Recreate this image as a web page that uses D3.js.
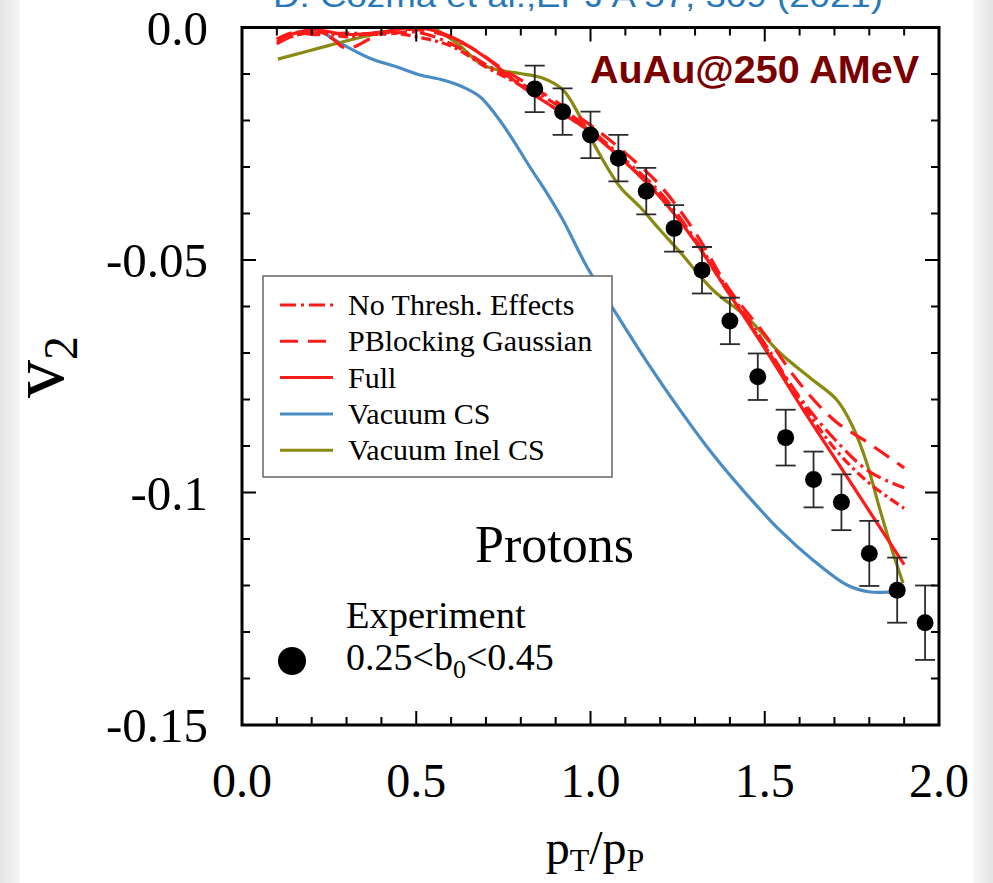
<!DOCTYPE html>
<html><head><meta charset="utf-8">
<script src="https://cdn.jsdelivr.net/npm/d3@7"></script>
<style>html,body{margin:0;padding:0;background:#fff;} svg{display:block}</style>
</head><body><svg id="c" width="993" height="883"></svg>
<script>
// ---------- data ----------
const xTicks = [0, 0.5, 1.0, 1.5, 2.0];
const xTickLabels = ["0.0", "0.5", "1.0", "1.5", "2.0"];
const yTicks = [0, -0.05, -0.1, -0.15];
const yTickLabels = ["0.0", "-0.05", "-0.1", "-0.15"];

const expX   = [0.84, 0.92, 1.00, 1.08, 1.16, 1.24, 1.32, 1.40, 1.48, 1.56, 1.64, 1.72, 1.80, 1.88, 1.96];
const expY   = [-0.0132, -0.0181, -0.0231, -0.0281, -0.0352, -0.0432, -0.0522, -0.0631, -0.0751, -0.0882, -0.0972, -0.1021, -0.1131, -0.1210, -0.1280];
const expErr = [0.005, 0.005, 0.005, 0.005, 0.005, 0.005, 0.005, 0.005, 0.005, 0.006, 0.006, 0.006, 0.007, 0.007, 0.008];

const vacuumCS = [[0.204,0.0003],[0.281,-0.0033],[0.367,-0.0066],[0.445,-0.0085],[0.511,-0.0102],[0.577,-0.0113],[0.634,-0.0128],[0.683,-0.0149],[0.732,-0.0192],[0.778,-0.0242],[0.826,-0.0300],[0.875,-0.0356],[0.921,-0.0414],[0.990,-0.0515],[1.076,-0.0618],[1.162,-0.0719],[1.257,-0.0823],[1.352,-0.0919],[1.449,-0.1005],[1.543,-0.1081],[1.638,-0.1145],[1.736,-0.1199],[1.802,-0.1214],[1.888,-0.1212]];
const vacuumInelCS = [[0.103,-0.0068],[0.253,-0.0038],[0.347,-0.0020],[0.462,0.0000],[0.505,0.0015],[0.548,0.0000],[0.617,-0.0034],[0.683,-0.0077],[0.732,-0.0091],[0.798,-0.0099],[0.864,-0.0109],[0.921,-0.0134],[0.970,-0.0192],[1.019,-0.0263],[1.085,-0.0343],[1.142,-0.0386],[1.199,-0.0435],[1.257,-0.0483],[1.352,-0.0565],[1.449,-0.0623],[1.544,-0.0700],[1.638,-0.0758],[1.707,-0.0801],[1.753,-0.0859],[1.793,-0.0937],[1.831,-0.1038],[1.868,-0.1130],[1.897,-0.1195]];
const fullRed = [[0.10,-0.0025],[0.2,-0.0005],[0.3,-0.0015],[0.4,-0.001],[0.5,0.0],[0.6,-0.002],[0.7,-0.0065],[0.8,-0.0125],[0.9,-0.0175],[1.0,-0.0225],[1.1,-0.029],[1.2,-0.0365],[1.3,-0.046],[1.4,-0.0575],[1.5,-0.069],[1.6,-0.081],[1.7,-0.0925],[1.8,-0.104],[1.9,-0.1155]];
const pblockGauss = [[0.1,-0.0035],[0.18,-0.001],[0.25,-0.002],[0.3,-0.0045],[0.38,-0.002],[0.45,-0.0005],[0.55,-0.001],[0.65,-0.004],[0.75,-0.009],[0.85,-0.0135],[1.0,-0.021],[1.1,-0.027],[1.2,-0.034],[1.3,-0.044],[1.4,-0.0565],[1.5,-0.066],[1.6,-0.0765],[1.7,-0.0845],[1.8,-0.0895],[1.9,-0.0947]];
const noThresh = [[0.1,-0.0025],[0.15,-0.001],[0.2,-0.0015],[0.3,-0.0012],[0.4,-0.0015],[0.5,-0.001],[0.6,-0.0035],[0.7,-0.008],[0.8,-0.012],[0.9,-0.0165],[1.0,-0.022],[1.1,-0.0285],[1.2,-0.0355],[1.3,-0.0455],[1.4,-0.057],[1.5,-0.068],[1.6,-0.0795],[1.7,-0.0885],[1.8,-0.0955],[1.9,-0.099]];
const extraRed = [[0.1,-0.003],[0.2,-0.001],[0.3,-0.002],[0.4,-0.001],[0.5,-0.002],[0.6,-0.004],[0.7,-0.0085],[0.8,-0.0125],[0.9,-0.0175],[1.0,-0.0225],[1.1,-0.029],[1.2,-0.036],[1.3,-0.046],[1.4,-0.0575],[1.5,-0.0685],[1.6,-0.080],[1.7,-0.0905],[1.8,-0.098],[1.9,-0.1034]];

const legendLabels = ["No Thresh. Effects", "PBlocking Gaussian", "Full", "Vacuum CS", "Vacuum Inel CS"];
const legendColors = ["#ff1a1a", "#ff1a1a", "#ff1a1a", "#4a8cc4", "#8a8a12"];
const legendDashes = ["16,5,3,5", "18,10", null, null, null];

// ---------- drawing ----------
const svg = d3.select("#c");
const x = d3.scaleLinear().domain([0, 2]).range([242, 939]);
const y = d3.scaleLinear().domain([-0.15, 0]).range([725, 27.5]);
const serif = "'Liberation Serif','Times New Roman',serif";
const sans = "'Liberation Sans',Arial,sans-serif";

svg.append("rect").attr("width", 993).attr("height", 883).attr("fill", "#fff");
const defs = svg.append("defs");
const gl = defs.append("linearGradient").attr("id","gl");
gl.append("stop").attr("offset","0").attr("stop-color","#e4e4e4");
gl.append("stop").attr("offset","1").attr("stop-color","#f6f6f6");
svg.append("rect").attr("x",0).attr("y",0).attr("width",20).attr("height",883).attr("fill","url(#gl)");
const gr = defs.append("linearGradient").attr("id","gr");
gr.append("stop").attr("offset","0").attr("stop-color","#f6f6f6");
gr.append("stop").attr("offset","1").attr("stop-color","#e4e4e4");
svg.append("rect").attr("x",973).attr("y",0).attr("width",20).attr("height",883).attr("fill","url(#gr)");

// citation (partly above the page, as in the reference)
svg.append("text").attr("x", 273).attr("y", 7).attr("textLength", 610).attr("lengthAdjust","spacingAndGlyphs")
  .attr("font-family", sans).attr("font-size", 32).attr("fill", "#2878b8")
  .text("D. Cozma et al.,EPJ A 57, 309 (2021)");

defs.append("clipPath").attr("id", "clip").append("rect")
  .attr("x", x(0)).attr("y", y(0)).attr("width", x(2) - x(0)).attr("height", y(-0.15) - y(0));

const plot = svg.append("g").attr("clip-path", "url(#clip)");
const line = d3.line().x(d => x(d[0])).y(d => y(d[1])).curve(d3.curveCatmullRom.alpha(0.5));

const series = [
  {d: vacuumCS, c: "#4a8cc4", dash: null},
  {d: vacuumInelCS, c: "#8a8a12", dash: null},
  {d: extraRed, c: "#ff1a1a", dash: "10,4,3,4"},
  {d: noThresh, c: "#ff1a1a", dash: "16,5,3,5"},
  {d: pblockGauss, c: "#ff1a1a", dash: "18,10"},
  {d: fullRed, c: "#ff1a1a", dash: null}
];
series.forEach(s => {
  plot.append("path").attr("d", line(s.d)).attr("fill", "none").attr("stroke", s.c)
    .attr("stroke-width", 3.2).attr("stroke-dasharray", s.dash);
});

// experimental points
const eg = plot.append("g");
expX.forEach((xv, i) => {
  const cx = x(xv), yt = y(expY[i] + expErr[i]), yb = y(expY[i] - expErr[i]);
  eg.append("line").attr("x1", cx).attr("x2", cx).attr("y1", yt).attr("y2", yb).attr("stroke", "#2a2a2a").attr("stroke-width", 1.8);
  eg.append("line").attr("x1", cx - 10).attr("x2", cx + 10).attr("y1", yt).attr("y2", yt).attr("stroke", "#2a2a2a").attr("stroke-width", 1.8);
  eg.append("line").attr("x1", cx - 10).attr("x2", cx + 10).attr("y1", yb).attr("y2", yb).attr("stroke", "#2a2a2a").attr("stroke-width", 1.8);
  eg.append("circle").attr("cx", cx).attr("cy", y(expY[i])).attr("r", 8.5).attr("fill", "#000");
});

// axes frame & ticks
const axG = svg.append("g").attr("stroke", "#000");
const minorX = d3.range(0, 21).map(i => i / 10);
minorX.forEach(v => {
  const major = Math.abs(v * 2 - Math.round(v * 2)) < 1e-6;
  const L = major ? 14 : 8;
  axG.append("line").attr("x1", x(v)).attr("x2", x(v)).attr("y1", y(-0.15)).attr("y2", y(-0.15) - L).attr("stroke-width", 2);
  axG.append("line").attr("x1", x(v)).attr("x2", x(v)).attr("y1", y(0)).attr("y2", y(0) + L).attr("stroke-width", 2);
});
const minorY = d3.range(0, 16).map(i => -i / 100);
minorY.forEach(v => {
  const major = Math.abs(v * 20 - Math.round(v * 20)) < 1e-6;
  const L = major ? 14 : 8;
  axG.append("line").attr("x1", x(0)).attr("x2", x(0) + L).attr("y1", y(v)).attr("y2", y(v)).attr("stroke-width", 2);
  axG.append("line").attr("x1", x(2)).attr("x2", x(2) - L).attr("y1", y(v)).attr("y2", y(v)).attr("stroke-width", 2);
});
svg.append("rect").attr("x", x(0)).attr("y", y(0)).attr("width", x(2) - x(0)).attr("height", y(-0.15) - y(0))
  .attr("fill", "none").attr("stroke", "#000").attr("stroke-width", 3);

// tick labels
xTicks.forEach((v, i) => {
  svg.append("text").attr("x", x(v)).attr("y", 797).attr("text-anchor", "middle")
    .attr("font-family", serif).attr("font-size", 48).attr("fill", "#000").text(xTickLabels[i]);
});
yTicks.forEach((v, i) => {
  svg.append("text").attr("x", 208).attr("y", y(v) + 17).attr("text-anchor", "end")
    .attr("font-family", serif).attr("font-size", 49).attr("fill", "#000").text(yTickLabels[i]);
});

// axis titles
const xt = svg.append("text").attr("x", 595).attr("y", 864).attr("text-anchor", "middle")
  .attr("font-family", serif).attr("font-size", 48).attr("fill", "#000");
xt.append("tspan").text("p");
xt.append("tspan").attr("font-size", 32).attr("dy", 7).text("T");
xt.append("tspan").attr("dy", -7).text("/p");
xt.append("tspan").attr("font-size", 32).attr("dy", 7).text("P");

const yt = svg.append("text").attr("transform", "translate(63,398) rotate(-90)")
  .attr("font-family", serif).attr("font-size", 76).attr("fill", "#000");
yt.append("tspan").text("v");
yt.append("tspan").attr("font-size", 48).attr("dy", 14).text("2");

// annotation
svg.append("text").attr("x", 590).attr("y", 83).attr("font-family", sans).attr("font-weight", "bold")
  .attr("font-size", 39.5).attr("fill", "#7a0000").text("AuAu@250 AMeV");
svg.append("text").attr("x", 475).attr("y", 562).attr("font-family", serif).attr("font-size", 52)
  .attr("fill", "#000").text("Protons");

// legend
const lg = svg.append("g");
lg.append("rect").attr("x", 263).attr("y", 276).attr("width", 349).attr("height", 201)
  .attr("fill", "#fff").attr("stroke", "#666").attr("stroke-width", 1.5);
legendLabels.forEach((t, i) => {
  const yy = 305 + i * 36.3;
  lg.append("line").attr("x1", 280).attr("x2", 333).attr("y1", yy).attr("y2", yy)
    .attr("stroke", legendColors[i]).attr("stroke-width", 3).attr("stroke-dasharray", legendDashes[i]);
  lg.append("text").attr("x", 348).attr("y", yy + 10).attr("font-family", serif).attr("font-size", 30)
    .attr("fill", "#000").text(t);
});

// experiment legend
svg.append("circle").attr("cx", 292).attr("cy", 661).attr("r", 14).attr("fill", "#000");
svg.append("text").attr("x", 346).attr("y", 628).attr("font-family", serif).attr("font-size", 38.5).attr("fill", "#000").text("Experiment");
const el = svg.append("text").attr("x", 346).attr("y", 670).attr("font-family", serif).attr("font-size", 38).attr("fill", "#000");
el.append("tspan").text("0.25<b");
el.append("tspan").attr("font-size", 26).attr("dy", 8).text("0");
el.append("tspan").attr("dy", -8).text("<0.45");
</script></body></html>
